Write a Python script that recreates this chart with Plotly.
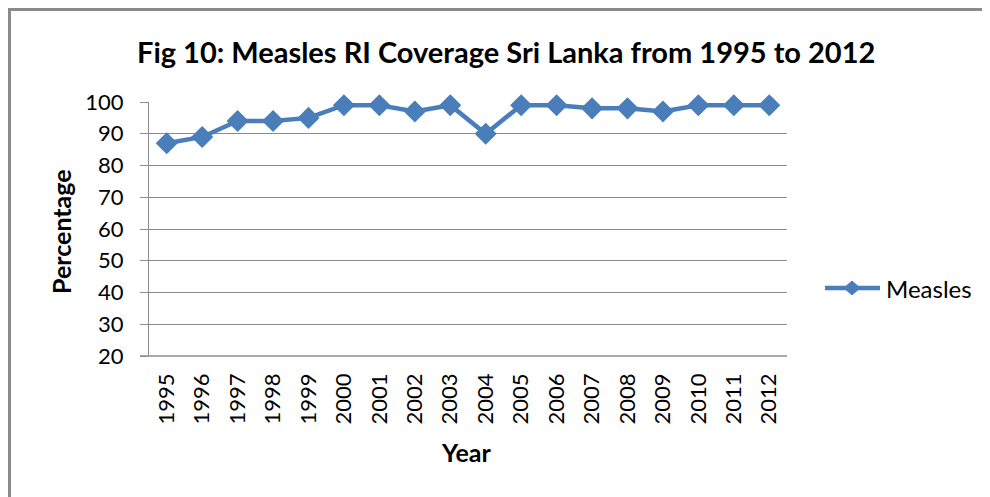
import plotly.graph_objects as go

years = ["1995", "1996", "1997", "1998", "1999", "2000", "2001", "2002", "2003",
         "2004", "2005", "2006", "2007", "2008", "2009", "2010", "2011", "2012"]
measles = [87, 89, 94, 94, 95, 99, 99, 97, 99, 90, 99, 99, 98, 98, 97, 99, 99, 99]
y_ticks = [20, 30, 40, 50, 60, 70, 80, 90, 100]

W, H = 990, 497
OFF = 8  # page body margin
FONT = "Lato"
GRID = "#8c8c8c"
BLUE = "#4A7EBB"

px = lambda v: (v - OFF) / W
py = lambda v: 1 - (v - OFF) / H

fig = go.Figure()
fig.add_trace(go.Scatter(
    x=years, y=measles, mode="lines+markers", name="Measles",
    line=dict(color=BLUE, width=4.5),
    marker=dict(symbol="diamond", size=17, color=BLUE),
    cliponaxis=False, showlegend=False,
))

# manual legend (line + diamond + label)
lx0, lx1, lxc, ly = 825, 880, 852, 288
dw, dh = 8, 7
legend_shapes = [
    dict(type="line", xref="paper", yref="paper", x0=px(lx0), x1=px(lx1), y0=py(ly), y1=py(ly),
         line=dict(color=BLUE, width=4.5)),
    dict(type="path", xref="paper", yref="paper",
         path=(f"M{px(lxc - dw)},{py(ly)} L{px(lxc)},{py(ly - dh)} "
               f"L{px(lxc + dw)},{py(ly)} L{px(lxc)},{py(ly + dh)} Z"),
         fillcolor=BLUE, line=dict(color=BLUE, width=1)),
]

fig.update_layout(
    width=W, height=H, autosize=False,
    margin=dict(l=0, r=0, t=0, b=0, pad=0, autoexpand=False),
    paper_bgcolor="white", plot_bgcolor="white",
    font=dict(family=FONT, color="#000000", size=20),
    showlegend=False,
    xaxis=dict(
        domain=[px(149), px(787)], type="category", range=[-0.5, 17.5],
        tickangle=-90, tickfont=dict(size=22, family=FONT), automargin=False,
        showgrid=False, showline=False, zeroline=False, ticks="",
        ticklabelstandoff=12,
    ),
    yaxis=dict(
        domain=[py(356), py(102)], range=[20, 100], tickvals=y_ticks,
        tickfont=dict(size=22, family=FONT), automargin=False,
        showgrid=True, gridcolor=GRID, gridwidth=1,
        showline=True, linecolor=GRID, linewidth=1,
        ticks="outside", ticklen=8, tickcolor=GRID, zeroline=False,
        ticklabelstandoff=12,
    ),
    annotations=[
        dict(text="<b>Fig 10: Measles RI Coverage Sri Lanka from 1995 to 2012</b>",
             x=px(506), y=py(51), xref="paper", yref="paper",
             showarrow=False, font=dict(size=29, family=FONT), xanchor="center", yanchor="middle"),
        dict(text="<b>Year</b>", x=px(466), y=py(452), xref="paper", yref="paper",
             showarrow=False, font=dict(size=25, family=FONT), xanchor="center", yanchor="middle"),
        dict(text="<b>Percentage</b>", x=px(61), y=py(232), xref="paper", yref="paper",
             showarrow=False, textangle=-90, font=dict(size=25, family=FONT),
             xanchor="center", yanchor="middle"),
        dict(text="Measles", x=px(884), y=py(288), xref="paper", yref="paper",
             showarrow=False, font=dict(size=24, family=FONT), xanchor="left", yanchor="middle"),
    ],
    shapes=[
        dict(type="line", xref="paper", yref="paper", x0=px(8), x1=1, y0=py(9.5), y1=py(9.5),
             line=dict(color="#8a8a8a", width=3)),
        dict(type="line", xref="paper", yref="paper", x0=px(9.5), x1=px(9.5), y0=py(8), y1=0,
             line=dict(color="#8a8a8a", width=3)),
        dict(type="line", xref="paper", yref="paper", x0=px(140), x1=px(787), y0=py(356), y1=py(356),
             line=dict(color=GRID, width=1.5), layer="below"),
    ] + legend_shapes,
)

fig.write_html("out.html")
